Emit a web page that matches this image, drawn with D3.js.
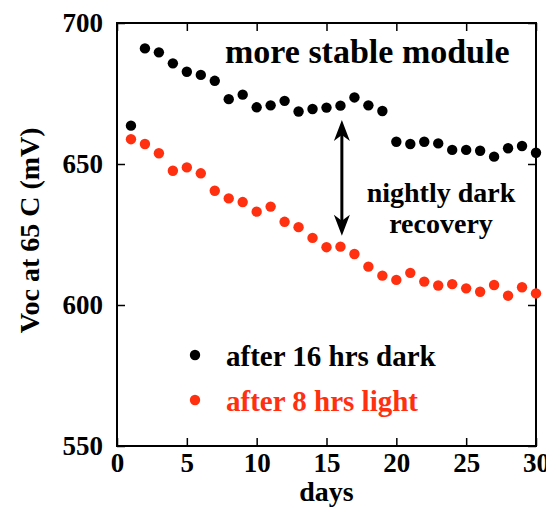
<!DOCTYPE html>
<html>
<head>
<meta charset="utf-8">
<script src="https://cdn.jsdelivr.net/npm/d3@7"></script>
<style>
  html, body { margin: 0; padding: 0; background: #fff; }
  svg { display: block; font-family: "Liberation Serif", "Times New Roman", serif; font-weight: bold; }
</style>
</head>
<body>
<svg width="546" height="507"></svg>
<script>
// data
const days = d3.range(1, 31)
const darkVoc = [663.6, 691.0, 689.6, 685.7, 682.7, 681.6, 679.5, 673.0, 674.6, 670.1,
                 670.8, 672.4, 668.6, 669.5, 670.0, 670.7, 673.6, 670.8, 668.8, 657.9,
                 657.1, 657.9, 657.3, 655.0, 655.0, 654.7, 652.6, 655.6, 656.4, 654.0]
const lightVoc = [658.8, 657.1, 653.8, 647.6, 648.8, 646.7, 640.5, 637.8, 636.5, 633.1,
                  634.9, 629.5, 627.6, 623.8, 620.5, 620.7, 618.1, 613.6, 610.4, 608.9,
                  611.4, 608.3, 606.9, 607.4, 605.9, 604.7, 607.1, 603.3, 606.3, 604.1]
const xTicks = [0, 5, 10, 15, 20, 25, 30]
const yTicks = [550, 600, 650, 700]
const seriesNames = ['after 16 hrs dark', 'after 8 hrs light']
const arrowSpan = {day: 16.1, from: 665.6, to: 624.6}

const red = '#ff3010'

const svg = d3.select('svg')
const margin = {top: 23, right: 10, bottom: 61, left: 117},
    width = +svg.attr('width') - margin.left - margin.right,
    height = +svg.attr('height') - margin.top - margin.bottom,
    r = 5.2

const x = d3.scaleLinear().domain([0, 30]).range([0, width])
const y = d3.scaleLinear().domain([550, 700]).range([height, 0])

const chart = svg.append('g')
    .attr('transform', `translate(${margin.left},${margin.top})`)

//axes, ticks inside on all four sides
const styleAxis = g => {
    g.select('.domain').remove()
    g.selectAll('line').attr('stroke', '#000').attr('stroke-width', 1.5)
    g.selectAll('text').attr('fill', '#000').attr('font-size', 27)
        .attr('font-family', '"Liberation Serif", serif').attr('font-weight', 'bold')
}
chart.append('g')
    .attr('transform', `translate(0,${height})`)
    .call(d3.axisBottom(x).tickValues(xTicks).tickSizeInner(-8).tickSizeOuter(0).tickPadding(7))
    .call(styleAxis)
chart.append('g')
    .call(d3.axisLeft(y).tickValues(yTicks).tickSizeInner(-8).tickSizeOuter(0).tickPadding(14))
    .call(styleAxis)
chart.append('g')
    .call(d3.axisTop(x).tickValues(xTicks).tickSizeInner(-8).tickSizeOuter(0).tickFormat(''))
    .call(styleAxis)
chart.append('g')
    .attr('transform', `translate(${width},0)`)
    .call(d3.axisRight(y).tickValues(yTicks).tickSizeInner(-8).tickSizeOuter(0).tickFormat(''))
    .call(styleAxis)

chart.append('rect')
    .attr('width', width)
    .attr('height', height)
    .attr('fill', 'none')
    .attr('stroke', '#000')
    .attr('stroke-width', 2)

//labels
svg.append('text')
    .text('Voc at 65 C (mV)')
    .attr('transform', `translate(39,${margin.top + height * 0.49}) rotate(-90)`)
    .attr('text-anchor', 'middle')
    .attr('font-size', 28)

svg.append('text')
    .text('days')
    .attr('x', margin.left + width / 2)
    .attr('y', 501)
    .attr('text-anchor', 'middle')
    .attr('font-size', 28)

chart.append('text')
    .text('more stable module')
    .attr('x', 108)
    .attr('y', 40)
    .attr('font-size', 34)

chart.append('text')
    .attr('text-anchor', 'middle')
    .attr('font-size', 28)
    .selectAll('tspan')
    .data(['nightly dark', 'recovery'])
    .enter().append('tspan')
    .attr('x', 324)
    .attr('y', (d, i) => 179 + i * 31)
    .text(d => d)

//arrow
const ax = x(arrowSpan.day), ay1 = y(arrowSpan.from), ay2 = y(arrowSpan.to)
chart.append('line')
    .attr('x1', ax).attr('x2', ax)
    .attr('y1', ay1 + 10).attr('y2', ay2 - 10)
    .attr('stroke', '#000')
    .attr('stroke-width', 3)
const head = (tipY, dir) =>
    `M${ax},${tipY} L${ax + 8},${tipY + dir * 21} L${ax},${tipY + dir * 15} L${ax - 8},${tipY + dir * 21} Z`
chart.append('path').attr('d', head(ay1, 1)).attr('fill', '#000')
chart.append('path').attr('d', head(ay2, -1)).attr('fill', '#000')

//points
const series = [
    {name: seriesNames[0], values: darkVoc, color: '#000'},
    {name: seriesNames[1], values: lightVoc, color: red}
]
series.forEach(s => {
    chart.append('g')
        .selectAll('circle')
        .data(days)
        .enter().append('circle')
        .attr('cx', d => x(d))
        .attr('cy', (d, i) => y(s.values[i]))
        .attr('r', r)
        .attr('fill', s.color)
})

//legend
const legend = svg.append('g')
    .attr('transform', 'translate(195,355)')
const items = legend.selectAll('g')
    .data(series)
    .enter().append('g')
    .attr('transform', (d, i) => `translate(0,${i * 45})`)
items.append('circle')
    .attr('r', r)
    .attr('fill', d => d.color)
items.append('text')
    .text(d => d.name)
    .attr('x', 31)
    .attr('y', 11)
    .attr('font-size', 29)
    .attr('fill', d => d.color)
</script>
</body>
</html>
